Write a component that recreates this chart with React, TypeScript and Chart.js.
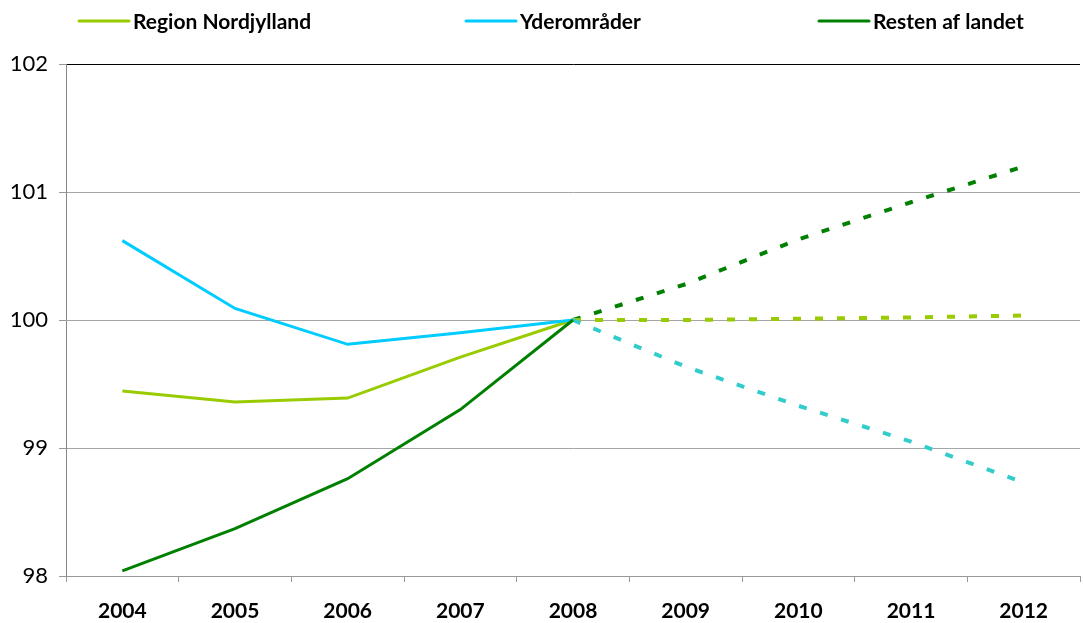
import React, { useEffect, useRef } from "react";
import { Chart, registerables } from "chart.js";

Chart.register(...registerables);

const years = ["2004", "2005", "2006", "2007", "2008", "2009", "2010", "2011", "2012"];
const seriesNames = ["Region Nordjylland", "Yderområder", "Resten af landet"];
const nordjyllandActual = [99.445, 99.36, 99.39, 99.71, 100.0, null, null, null, null];
const yderActual = [100.62, 100.09, 99.81, 99.9, 100.0, null, null, null, null];
const restenActual = [98.04, 98.37, 98.76, 99.3, 100.0, null, null, null, null];
const nordjyllandForecast = [null, null, null, null, 100.0, 100.0, 100.01, 100.02, 100.035];
const yderForecast = [null, null, null, null, 100.0, 99.635, 99.33, 99.05, 98.73];
const restenForecast = [null, null, null, null, 100.0, 100.28, 100.63, 100.92, 101.2];
const yTicks = [98, 99, 100, 101, 102];

const FONT = "Lato, 'Open Sans', sans-serif";
const C_NORD = "#99cc00";
const C_YDER = "#00ccff";
const C_YDER_F = "#33cccc";
const C_REST = "#008000";

const legendPlugin = {
  id: "customLegend",
  afterDraw(chart: any) {
    const ctx = chart.ctx;
    const starts = [79, 466, 819];
    const colors = [C_NORD, C_YDER, C_REST];
    ctx.save();
    ctx.font = `bold 21px ${FONT}`;
    ctx.textBaseline = "middle";
    ctx.fillStyle = "#000";
    seriesNames.forEach((name, i) => {
      const x = starts[i];
      const y = 21;
      ctx.strokeStyle = colors[i];
      ctx.lineWidth = 3;
      ctx.lineCap = "round";
      ctx.beginPath();
      ctx.moveTo(x, y);
      ctx.lineTo(x + 50, y);
      ctx.stroke();
      ctx.fillText(name, x + 54, y + 1);
    });
    ctx.restore();
  },
};

export default function App() {
  const ref = useRef<HTMLCanvasElement>(null);
  useEffect(() => {
    document.body.style.margin = "0";
    const solid = (label: string, data: any[], color: string, order: number) => ({
      label,
      data,
      borderColor: color,
      backgroundColor: color,
      borderWidth: 3,
      pointRadius: 0,
      tension: 0,
      spanGaps: false,
      order,
    });
    const dashed = (label: string, data: any[], color: string, order: number) => ({
      label,
      data,
      borderColor: color,
      backgroundColor: color,
      borderWidth: 4,
      borderDash: [8, 14],
      pointRadius: 0,
      tension: 0,
      order,
    });
    const chart = new Chart(ref.current as HTMLCanvasElement, {
      type: "line",
      data: {
        labels: years,
        datasets: [
          solid(seriesNames[0], nordjyllandActual, C_NORD, 2),
          solid(seriesNames[1], yderActual, C_YDER, 1),
          solid(seriesNames[2], restenActual, C_REST, 0),
          dashed(seriesNames[0] + " (prognose)", nordjyllandForecast, C_NORD, 4),
          dashed(seriesNames[1] + " (prognose)", yderForecast, C_YDER_F, 3),
          dashed(seriesNames[2] + " (prognose)", restenForecast, C_REST, 5),
        ],
      },
      options: {
        animation: false,
        responsive: false,
        maintainAspectRatio: false,
        layout: { padding: { top: 64, right: 3, left: 0, bottom: 0 } },
        plugins: {
          legend: { display: false },
          tooltip: { enabled: false },
        },
        scales: {
          x: {
            offset: true,
            grid: {
              display: true,
              drawOnChartArea: false,
              offset: true,
              tickLength: 6,
              tickColor: "#999",
            },
            border: { color: "#999", width: 1 },
            ticks: {
              color: "#000",
              font: { family: FONT, size: 21, weight: "bold" },
              padding: 17,
              maxRotation: 0,
            },
            afterFit(scale: any) {
              scale.height = 47;
            },
          },
          y: {
            min: 98,
            max: 102,
            afterBuildTicks(scale: any) {
              scale.ticks = yTicks.map((v) => ({ value: v }));
            },
            grid: {
              color: (c: any) => (c.tick && c.tick.value === 102 ? "#000" : "#a6a6a6"),
              tickColor: "#999",
              tickLength: 7,
            },
            border: { color: "#888", width: 1 },
            ticks: {
              color: "#000",
              font: { family: FONT, size: 22 },
              padding: 11,
            },
            afterFit(scale: any) {
              scale.width = 66;
            },
          },
        },
      },
      plugins: [legendPlugin],
    });
    return () => chart.destroy();
  }, []);
  return (
    <div style={{ width: 1083, height: 623 }}>
      <canvas ref={ref} width={1083} height={623} style={{ display: "block" }} />
    </div>
  );
}
